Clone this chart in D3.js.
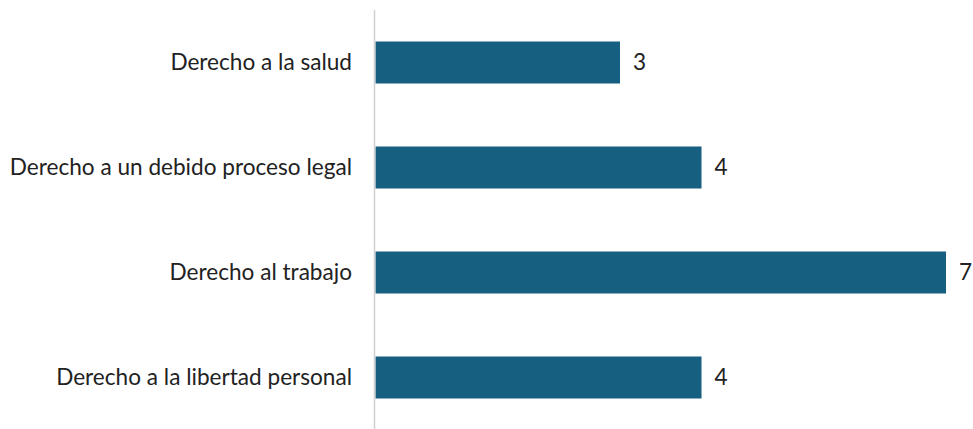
<!DOCTYPE html>
<html><head><meta charset="utf-8">
<script src="https://cdn.jsdelivr.net/npm/d3@7"></script>
<style>html,body{margin:0;padding:0;background:#fff;}</style>
</head><body>
<svg id="c" width="973" height="429"></svg>
<script>
const categories = ["Derecho a la salud","Derecho a un debido proceso legal","Derecho al trabajo","Derecho a la libertad personal"];
const values = [3,4,7,4];
const svg = d3.select("#c");
const font = "Lato, 'Open Sans', sans-serif";
const y = d3.scaleBand().domain(categories).range([10,430]).paddingInner(0.6).paddingOuter(0.3);
const x = d3.scaleLinear().domain([0,7]).range([375.5,946]);
svg.selectAll("rect").data(values).join("rect")
  .attr("x", x(0)).attr("y",(d,i)=>y(categories[i]))
  .attr("width", d=>x(d)-x(0)).attr("height", y.bandwidth())
  .attr("fill","#175f80");
svg.append("line").attr("x1",374.5).attr("x2",374.5).attr("y1",10).attr("y2",429)
  .attr("stroke","#d0d0d0").attr("stroke-width",1.5);
svg.selectAll("text.cat").data(categories).join("text").attr("class","cat")
  .attr("x",352).attr("y",d=>y(d)+y.bandwidth()/2).attr("dy","0.35em")
  .attr("text-anchor","end").attr("font-family",font).attr("font-size",22.6).attr("fill","#222")
  .text(d=>d);
svg.selectAll("text.val").data(values).join("text").attr("class","val")
  .attr("x",d=>x(d)+13).attr("y",(d,i)=>y(categories[i])+y.bandwidth()/2).attr("dy","0.35em")
  .attr("font-family",font).attr("font-size",22.6).attr("fill","#222")
  .text(d=>d);
</script>
</body></html>
